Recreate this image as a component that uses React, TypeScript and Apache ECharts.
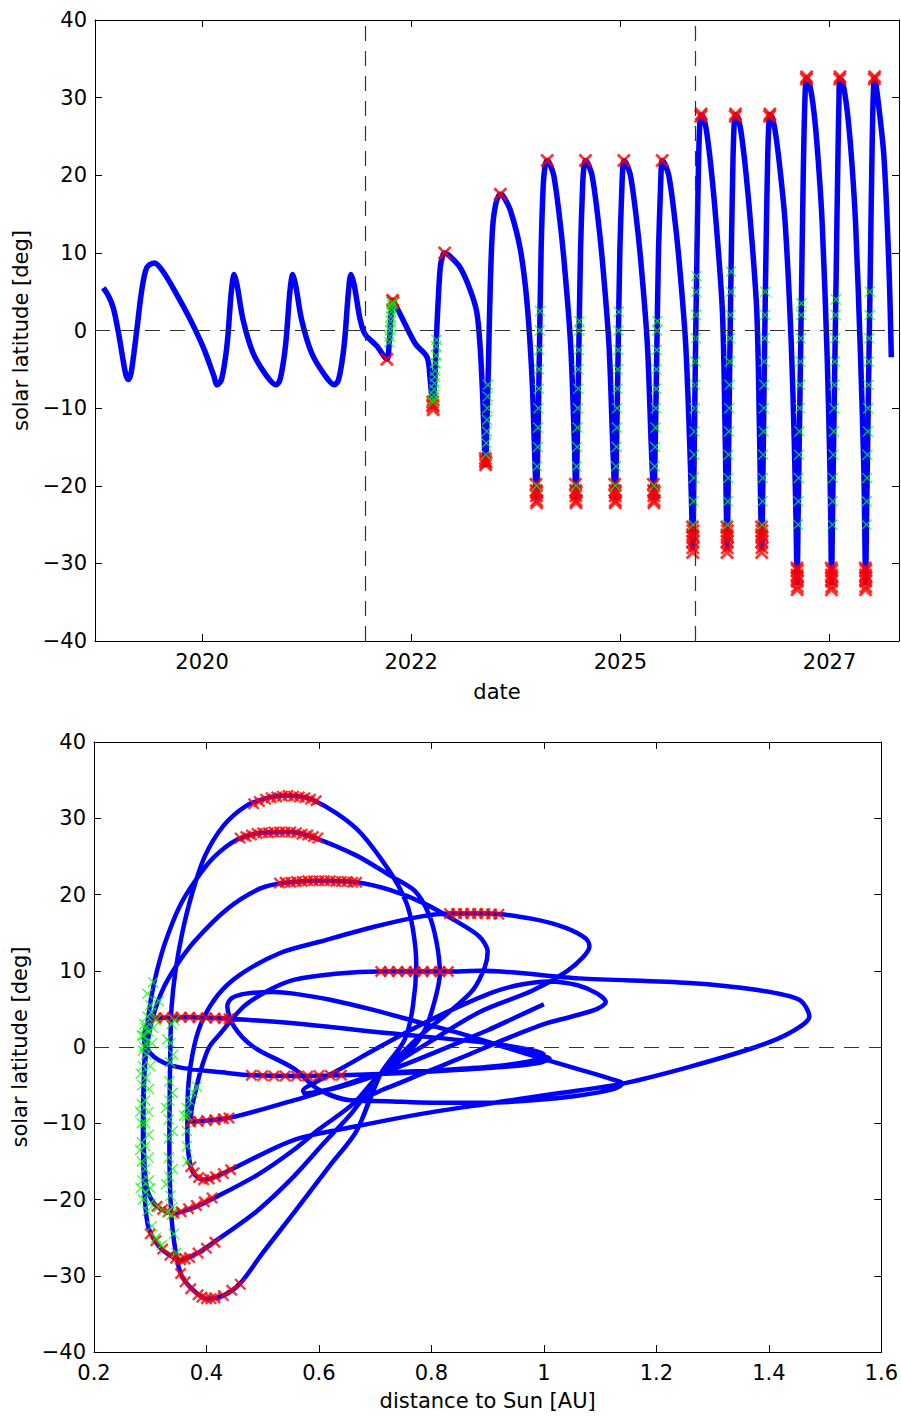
import React, { useEffect, useRef } from "react";
import * as echarts from "echarts";

// ---------------- TOP PANEL: solar latitude vs date ----------------
const DATE_TICKS = [2020, 2022.5, 2025, 2027.5];
const LAT_TICKS_INTERVAL = 10;
const VENUS_FLYBY_DATES = [2021.948, 2025.891];

const TOP_TRACK: number[][] = [
  [2018.82, 5.5], [2018.88, 4.5], [2018.94, 2.9], [2019.0, -0.2], [2019.05, -3.4], [2019.09, -5.7], [2019.12, -6.3],
  [2019.15, -5.6], [2019.185, -3.0], [2019.22, 0.0], [2019.28, 5.2], [2019.34, 8.1], [2019.43, 8.7], [2019.54, 7.5],
  [2019.7, 4.6], [2019.86, 1.4], [2020.02, -2.3], [2020.14, -5.8], [2020.18, -7.0], [2020.23, -6.4], [2020.28, -3.5],
  [2020.31, -0.6], [2020.35, 5.0], [2020.385, 7.2], [2020.42, 5.8], [2020.49, 1.4], [2020.61, -2.9], [2020.77, -5.8],
  [2020.885, -7.0], [2020.93, -6.4], [2020.98, -3.5], [2021.01, -0.6], [2021.05, 5.0], [2021.085, 7.2], [2021.12, 5.8],
  [2021.19, 1.4], [2021.31, -2.9], [2021.47, -5.8], [2021.58, -7.0], [2021.63, -6.4], [2021.68, -3.5], [2021.71, -0.6],
  [2021.75, 5.0], [2021.78, 7.2], [2021.82, 5.8], [2021.89, 1.4], [2021.95, -0.5], [2022.09, -2.0], [2022.21, -3.7],
  [2022.235, -2.0], [2022.25, 0.5], [2022.265, 2.8], [2022.28, 3.9], [2022.33, 2.9], [2022.41, 1.2], [2022.55, -1.7],
  [2022.69, -3.45], [2022.727, -6.3], [2022.76, -9.8], [2022.772, -8.2], [2022.787, -5.2], [2022.8, -1.5], [2022.815, 2.3],
  [2022.847, 8.1], [2022.875, 9.6], [2022.9, 10.0], [2022.97, 9.5], [2023.086, 8.1], [2023.206, 5.2], [2023.285, 2.3],
  [2023.325, -2.3], [2023.353, -8.1], [2023.377, -15.0], [2023.389, -17.3], [2023.405, -12.0], [2023.425, -3.5],
  [2023.445, 5.8], [2023.473, 13.2], [2023.513, 16.4], [2023.565, 17.55],
  [2023.6, 17.3], [2023.685, 15.5], [2023.805, 10.4], [2023.885, 3.5], [2023.945, -6.3], [2023.973, -15], [2023.997, -21.5],
  [2024.013, -15], [2024.033, -2.3], [2024.053, 10.4], [2024.077, 18.4], [2024.1, 21.2], [2024.125, 21.9],
  [2024.155, 21.5], [2024.205, 19.9], [2024.265, 15.3], [2024.325, 9.2], [2024.405, -1.7], [2024.452, -15], [2024.468, -21.5],
  [2024.484, -15], [2024.504, -2.3], [2024.524, 10.4], [2024.548, 18.4], [2024.565, 21.2], [2024.583, 21.9],
  [2024.613, 21.5], [2024.663, 19.9], [2024.723, 15.3], [2024.783, 9.2], [2024.863, -1.7], [2024.91, -15], [2024.938, -21.5],
  [2024.954, -15], [2024.974, -2.3], [2024.994, 10.4], [2025.018, 18.4], [2025.03, 21.2], [2025.042, 21.9],
  [2025.072, 21.5], [2025.122, 19.9], [2025.182, 15.3], [2025.242, 9.2], [2025.322, -1.7], [2025.37, -15], [2025.4, -21.5],
  [2025.416, -15], [2025.436, -2.3], [2025.456, 10.4], [2025.48, 18.4], [2025.49, 21.2], [2025.5, 21.9],
  [2025.53, 21.5], [2025.58, 19.9], [2025.64, 15.3], [2025.7, 9.2], [2025.78, -1.7], [2025.83, -15], [2025.85, -22], [2025.865, -28],
  [2025.877, -20], [2025.895, -5], [2025.915, 10], [2025.935, 22], [2025.95, 26.8], [2025.965, 27.8],
  [2025.995, 27.4], [2026.035, 25.3], [2026.09, 20.3], [2026.145, 13.8], [2026.22, 2.3], [2026.255, -15], [2026.265, -22], [2026.276, -28],
  [2026.288, -20], [2026.306, -5], [2026.326, 10], [2026.346, 22], [2026.361, 26.8], [2026.376, 27.8],
  [2026.406, 27.4], [2026.446, 25.3], [2026.501, 20.3], [2026.556, 13.8], [2026.631, 2.3], [2026.666, -15], [2026.676, -22], [2026.69, -28],
  [2026.702, -20], [2026.72, -5], [2026.74, 10], [2026.76, 22], [2026.775, 26.8], [2026.786, 27.8],
  [2026.816, 27.4], [2026.856, 25.3], [2026.913, 20.3], [2026.97, 13.8], [2027.04, -1], [2027.08, -15], [2027.1, -25], [2027.113, -32.5],
  [2027.123, -25], [2027.145, -9.2], [2027.165, 5], [2027.185, 19.6], [2027.205, 29.5], [2027.225, 32.5],
  [2027.26, 31.8], [2027.313, 28.2], [2027.362, 22.3], [2027.412, 13.8], [2027.472, -3.5], [2027.505, -18], [2027.515, -25], [2027.524, -32.5],
  [2027.534, -25], [2027.556, -9.2], [2027.576, 5], [2027.596, 19.6], [2027.612, 29.5], [2027.624, 32.5],
  [2027.66, 31.8], [2027.712, 28.2], [2027.762, 22.3], [2027.811, 13.8], [2027.871, -3.5], [2027.91, -18], [2027.92, -25], [2027.931, -32.5],
  [2027.941, -25], [2027.963, -9.2], [2027.983, 5], [2028.003, 19.6], [2028.02, 29.5], [2028.038, 32.5],
  [2028.07, 30.5], [2028.15, 22.4], [2028.21, 8.1], [2028.238, -3.45],
];

const TOP_RED: number[][] = [
  [2022.21, -3.7], [2022.278, 3.9], [2022.283, 3.6],
  [2022.756, -9.2], [2022.76, -9.8], [2022.763, -10.2], [2022.758, -9.6],
  [2022.9, 10.0],
  [2023.386, -16.5], [2023.389, -17.3], [2023.392, -17.0], [2023.388, -16.8],
  [2023.565, 17.55],
  [2023.991, -19.8], [2023.994, -20.6], [2023.997, -21.3], [2024.0, -21.9], [2024.002, -20.8], [2023.998, -22.2],
  [2024.462, -19.8], [2024.465, -20.6], [2024.468, -21.3], [2024.471, -21.9], [2024.473, -20.8], [2024.469, -22.2],
  [2024.932, -19.8], [2024.935, -20.6], [2024.938, -21.3], [2024.941, -21.9], [2024.943, -20.8], [2024.939, -22.2],
  [2025.394, -19.8], [2025.397, -20.6], [2025.4, -21.3], [2025.403, -21.9], [2025.405, -20.8], [2025.401, -22.2],
  [2024.125, 21.9], [2024.583, 21.9], [2025.042, 21.9], [2025.5, 21.9],
  [2025.861, -25.3], [2025.863, -26.3], [2025.865, -27.2], [2025.867, -28.0], [2025.869, -26.6], [2025.864, -28.6], [2025.868, -25.8],
  [2026.272, -25.3], [2026.274, -26.3], [2026.276, -27.2], [2026.278, -28.0], [2026.28, -26.6], [2026.275, -28.6], [2026.279, -25.8],
  [2026.686, -25.3], [2026.688, -26.3], [2026.69, -27.2], [2026.692, -28.0], [2026.694, -26.6], [2026.689, -28.6], [2026.693, -25.8],
  [2025.962, 27.6], [2025.966, 27.9], [2026.373, 27.6], [2026.377, 27.9], [2026.783, 27.6], [2026.787, 27.9],
  [2027.109, -30.6], [2027.111, -31.5], [2027.113, -32.3], [2027.115, -33.0], [2027.117, -31.8], [2027.112, -33.4], [2027.116, -30.9],
  [2027.52, -30.6], [2027.522, -31.5], [2027.524, -32.3], [2027.526, -33.0], [2027.528, -31.8], [2027.523, -33.4], [2027.527, -30.9],
  [2027.927, -30.6], [2027.929, -31.5], [2027.931, -32.3], [2027.933, -33.0], [2027.935, -31.8], [2027.93, -33.4], [2027.934, -30.9],
  [2027.222, 32.4], [2027.226, 32.7], [2027.621, 32.4], [2027.625, 32.7], [2028.035, 32.4], [2028.039, 32.7],
];

const TOP_GREEN: number[][] = [
  [2022.238, -1.5], [2022.242, -0.8], [2022.246, 0], [2022.25, 0.5], [2022.254, 1.2], [2022.258, 1.8], [2022.262, 2.4],
  [2022.266, 2.9], [2022.27, 3.3], [2022.275, 3.6],
  [2022.762, -9.2], [2022.766, -8.8], [2022.77, -8.3], [2022.775, -7.6], [2022.779, -6.8], [2022.783, -6.0],
  [2022.787, -5.2], [2022.791, -4.2], [2022.795, -3.2], [2022.799, -2.0], [2022.802, -1.2],
  [2023.393, -16], [2023.397, -14.5], [2023.402, -13], [2023.406, -11.5], [2023.41, -10], [2023.413, -8.5], [2023.417, -7],
  [2024.0, -20], [2024.006, -17.5], [2024.013, -15], [2024.017, -12.5], [2024.021, -10], [2024.025, -7.5], [2024.028, -5],
  [2024.032, -2.5], [2024.036, 0], [2024.04, 2.5],
  [2024.471, -20], [2024.477, -17.5], [2024.484, -15], [2024.488, -12.5], [2024.492, -10], [2024.496, -7.5], [2024.499, -5],
  [2024.503, -2.5], [2024.507, 0], [2024.51, 1.2],
  [2024.941, -20], [2024.947, -17.5], [2024.954, -15], [2024.958, -12.5], [2024.962, -10], [2024.966, -7.5], [2024.969, -5],
  [2024.973, -2.5], [2024.977, 0], [2024.981, 2.4],
  [2025.403, -20], [2025.409, -17.5], [2025.416, -15], [2025.42, -12.5], [2025.424, -10], [2025.428, -7.5], [2025.431, -5],
  [2025.435, -2.5], [2025.439, 0], [2025.442, 1.2],
  [2025.87, -25], [2025.874, -22], [2025.878, -19], [2025.882, -16], [2025.886, -13], [2025.89, -10], [2025.893, -7],
  [2025.896, -4], [2025.9, -1], [2025.904, 2], [2025.908, 5], [2025.91, 7],
  [2026.281, -25], [2026.285, -22], [2026.289, -19], [2026.293, -16], [2026.297, -13], [2026.301, -10], [2026.304, -7],
  [2026.307, -4], [2026.311, -1], [2026.315, 2], [2026.319, 5], [2026.322, 7.6],
  [2026.695, -25], [2026.699, -22], [2026.703, -19], [2026.707, -16], [2026.711, -13], [2026.715, -10], [2026.718, -7],
  [2026.721, -4], [2026.725, -1], [2026.729, 2], [2026.733, 5],
  [2027.123, -25], [2027.127, -22], [2027.131, -19], [2027.135, -16], [2027.14, -13], [2027.144, -10], [2027.148, -7],
  [2027.152, -4], [2027.157, -1], [2027.161, 2], [2027.163, 3.5],
  [2027.534, -25], [2027.538, -22], [2027.542, -19], [2027.546, -16], [2027.551, -13], [2027.555, -10], [2027.559, -7],
  [2027.563, -4], [2027.568, -1], [2027.572, 2], [2027.575, 4],
  [2027.941, -25], [2027.945, -22], [2027.949, -19], [2027.953, -16], [2027.958, -13], [2027.962, -10], [2027.966, -7],
  [2027.97, -4], [2027.975, -1], [2027.979, 2], [2027.982, 5],
];

// ---------------- BOTTOM PANEL: solar latitude vs distance ----------------
const LAUNCH_LEG: number[][] = [
  [1.0, 5.6], [0.95, 3.9], [0.9, 2.2], [0.8, -0.9], [0.71, -3.5], [0.64, -5.2], [0.595, -5.9], [0.575, -6.1],
  [0.572, -5.7], [0.59, -4.8], [0.64, -2.8], [0.7, -0.3], [0.77, 2.5], [0.84, 5.0], [0.91, 7.2], [0.96, 8.2],
  [1.01, 8.6], [1.06, 8.1], [1.095, 7.0], [1.11, 5.9], [1.095, 5.0], [1.05, 4.0], [1.0, 3.0], [0.927, 0.9],
  [0.85, -1.5], [0.78, -3.6], [0.72, -5.4], [0.66, -7.0],
];
const CRUISE_LOOP: number[][] = [
  [0.66, -7.0], [0.6, -5.6], [0.555, -2.8], [0.484, 0.0], [0.449, 2.7], [0.437, 5.4], [0.445, 6.4], [0.47, 7.0],
  [0.52, 7.2], [0.555, 7.0], [0.62, 6.2], [0.7, 4.8], [0.785, 3.1], [0.86, 1.6], [0.93, 0.0], [1.0, -1.6],
  [1.07, -3.1], [1.12, -4.2], [1.14, -4.8], [1.12, -5.6], [1.06, -6.4], [0.98, -7.0], [0.9, -7.3], [0.8, -7.3],
  [0.72, -7.1], [0.66, -7.0],
];
const CRUISE_EXIT: number[][] = [
  [0.6, -5.6], [0.555, -2.8], [0.484, 0.0], [0.449, 2.7], [0.437, 5.4], [0.445, 6.4], [0.47, 7.0], [0.52, 7.2],
  [0.555, 7.0], [0.62, 6.2], [0.7, 4.8], [0.785, 3.1], [0.86, 1.6], [0.93, 0.0], [0.98, -1.0], [1.01, -1.5],
  [0.99, -2.1], [0.93, -2.6], [0.85, -3.0], [0.75, -3.4],
];
const ORBIT_2022: number[][] = [
  [0.64, -3.7], [0.56, -3.8], [0.48, -3.7], [0.437, -3.4], [0.348, -2.6], [0.307, -1.3], [0.289, 0.9], [0.295, 3.0],
  [0.31, 3.8], [0.37, 3.9], [0.44, 3.7], [0.555, 3.1], [0.726, 1.8], [0.903, 0.5], [0.97, -0.3], [1.0, -1.0],
  [0.98, -1.8], [0.903, -2.6], [0.8, -3.1], [0.71, -3.5], [0.63, -5.3], [0.555, -7.0], [0.44, -9.3], [0.372, -9.8],
  [0.374, -8.0], [0.38, -6.0], [0.39, -3.0], [0.405, 0.0], [0.425, 1.8], [0.466, 5.3], [0.51, 7.4], [0.555, 8.8],
  [0.63, 9.6], [0.71, 9.9], [0.83, 9.9], [0.886, 10.0], [1.063, 9.0], [1.259, 8.4], [1.377, 7.5], [1.454, 6.2],
  [1.472, 4.0], [1.436, 1.8], [1.377, 0.0], [1.259, -2.6], [1.14, -4.8], [1.022, -6.1], [0.903, -7.4], [0.78, -8.8],
  [0.667, -10.4], [0.555, -12.2], [0.443, -16.1], [0.41, -17.2], [0.395, -17.4], [0.38, -16.8], [0.372, -15.7],
];
const ORBIT_2023: number[][] = [
  [0.366, -12.0], [0.367, -6.0], [0.375, -1.0], [0.39, 3.0], [0.42, 6.8], [0.46, 9.5], [0.53, 12.3], [0.601, 13.8],
  [0.7, 15.8], [0.78, 17.1], [0.832, 17.5], [0.903, 17.5], [0.98, 16.8], [1.04, 15.6], [1.075, 14.2], [1.081, 13.2],
  [1.07, 11.8], [1.04, 9.9], [0.98, 7.4], [0.886, 4.6], [0.8, 0.8], [0.71, -3.5],
];
const LOOP_22: number[][] = [
  [0.71, -3.5], [0.66, -7.5], [0.6, -10.8], [0.555, -13.5], [0.49, -16.8], [0.419, -19.6], [0.38, -21.0], [0.342, -21.8],
  [0.312, -20.9], [0.295, -18.8], [0.289, -14], [0.288, -8], [0.29, -3], [0.295, 0.5], [0.305, 4.0], [0.322, 7.5],
  [0.345, 10.5], [0.378, 13.8], [0.437, 18.1], [0.496, 20.8], [0.537, 21.5], [0.6, 21.8], [0.667, 21.6], [0.726, 20.6],
  [0.785, 18.9], [0.844, 16.5], [0.885, 14.5], [0.9, 12.5], [0.895, 10.5], [0.874, 7.5], [0.83, 4.5], [0.785, 1.8],
  [0.745, -1.0], [0.71, -3.5],
];
const LOOP_28: number[][] = [
  [0.71, -3.5], [0.66, -8.5], [0.61, -12.5], [0.555, -17], [0.49, -21.5], [0.419, -25.3], [0.385, -27.0], [0.354, -27.9],
  [0.325, -26.8], [0.307, -25.3], [0.295, -23.1], [0.289, -18], [0.287, -10], [0.289, -3], [0.292, 1], [0.296, 3.6],
  [0.302, 6.6], [0.312, 10.0], [0.327, 13.8], [0.352, 18.4], [0.38, 21.8], [0.412, 24.8], [0.455, 27.2], [0.5, 28.1],
  [0.55, 28.2], [0.59, 27.5], [0.667, 25.1], [0.726, 22.5], [0.77, 20.5], [0.795, 17.5], [0.809, 13.8], [0.815, 9.7],
  [0.803, 5.3], [0.785, 1.8], [0.745, -1.8], [0.71, -3.5],
];
const LOOP_33: number[][] = [
  [0.71, -3.5], [0.667, -11], [0.62, -15.5], [0.555, -21.8], [0.5, -27], [0.46, -31], [0.43, -32.6], [0.4, -33],
  [0.375, -31.8], [0.354, -29.7], [0.342, -25.3], [0.336, -20], [0.334, -12], [0.335, -4], [0.336, 0.9], [0.338, 5.3],
  [0.345, 10.0], [0.357, 15.0], [0.374, 20.0], [0.397, 25.0], [0.43, 29.0], [0.47, 31.6], [0.51, 32.7], [0.54, 33],
  [0.59, 32.4], [0.667, 28.6], [0.726, 23], [0.755, 19], [0.767, 15.5], [0.773, 11], [0.767, 5.3], [0.752, 0.9], [0.71, -3.5],
];

const BOTTOM_TRACK: number[][] = [
  ...LAUNCH_LEG,
  ...CRUISE_LOOP.slice(1), ...CRUISE_LOOP.slice(1), ...CRUISE_EXIT,
  ...ORBIT_2022, ...ORBIT_2023,
  ...LOOP_22.slice(1), ...LOOP_22.slice(1), ...LOOP_22.slice(1), ...LOOP_22.slice(1),
  ...LOOP_28.slice(1), ...LOOP_28.slice(1), ...LOOP_28.slice(1),
  ...LOOP_33.slice(1), ...LOOP_33.slice(1), ...LOOP_33.slice(1),
];

const BOTTOM_RED: number[][] = [
  [0.48, -3.7], [0.5, -3.75], [0.52, -3.8], [0.54, -3.8], [0.56, -3.8], [0.58, -3.8], [0.6, -3.75], [0.62, -3.7], [0.64, -3.7],
  [0.31, 3.8], [0.325, 3.85], [0.34, 3.9], [0.355, 3.9], [0.37, 3.9], [0.385, 3.85], [0.4, 3.8], [0.415, 3.8], [0.43, 3.75], [0.44, 3.7],
  [0.372, -9.8], [0.385, -9.75], [0.4, -9.65], [0.415, -9.55], [0.43, -9.4], [0.44, -9.3],
  [0.71, 9.9], [0.725, 9.9], [0.74, 9.9], [0.755, 9.9], [0.77, 9.9], [0.785, 9.9], [0.8, 9.9], [0.815, 9.9], [0.83, 9.9],
  [0.372, -15.7], [0.378, -16.5], [0.386, -17.1], [0.395, -17.4], [0.405, -17.3], [0.416, -17.0], [0.43, -16.6], [0.443, -16.1],
  [0.832, 17.5], [0.845, 17.5], [0.857, 17.5], [0.87, 17.5], [0.882, 17.5], [0.895, 17.5], [0.907, 17.45], [0.92, 17.4],
  [0.312, -20.9], [0.322, -21.3], [0.332, -21.6], [0.342, -21.8], [0.355, -21.6], [0.368, -21.2], [0.382, -20.8], [0.396, -20.3], [0.41, -19.8],
  [0.53, 21.5], [0.54, 21.6], [0.55, 21.6], [0.56, 21.7], [0.57, 21.7], [0.58, 21.8], [0.59, 21.8], [0.6, 21.8], [0.61, 21.8], [0.62, 21.8],
  [0.63, 21.7], [0.64, 21.7], [0.65, 21.7], [0.66, 21.6], [0.667, 21.6],
  [0.3, -24.5], [0.31, -25.4], [0.322, -26.5], [0.335, -27.3], [0.345, -27.7], [0.354, -27.9], [0.362, -27.8], [0.37, -27.6],
  [0.385, -27.0], [0.4, -26.4], [0.415, -25.6],
  [0.46, 27.4], [0.47, 27.6], [0.48, 27.8], [0.49, 28.0], [0.5, 28.1], [0.51, 28.1], [0.52, 28.2], [0.53, 28.2], [0.54, 28.2],
  [0.55, 28.2], [0.56, 28.1], [0.57, 27.9], [0.58, 27.8], [0.59, 27.6], [0.598, 27.4],
  [0.354, -29.7], [0.362, -30.8], [0.372, -31.7], [0.385, -32.5], [0.392, -32.8], [0.4, -33.0], [0.408, -33.0], [0.415, -32.9],
  [0.43, -32.6], [0.445, -31.9], [0.46, -31.1],
  [0.484, 31.9], [0.494, 32.2], [0.505, 32.5], [0.515, 32.7], [0.525, 32.8], [0.535, 32.9], [0.545, 33.0], [0.555, 32.9],
  [0.565, 32.8], [0.575, 32.7], [0.585, 32.5], [0.595, 32.3],
];

const BOTTOM_GREEN: number[][] = [
  [0.287, -20], [0.286, -17.5], [0.285, -15], [0.285, -12.5], [0.285, -10], [0.285, -7.5], [0.286, -5], [0.287, -2.5], [0.289, 0], [0.292, 2.5],
  [0.295, -21.5], [0.292, -19], [0.291, -16], [0.291, -13], [0.291, -10], [0.291, -7], [0.292, -4], [0.293, -1], [0.297, 2], [0.302, 4.5],
  [0.303, -23.5], [0.3, -20.5], [0.298, -17.5], [0.297, -14.5], [0.297, -11.5], [0.297, -8.5], [0.298, -5.5], [0.3, -2.5], [0.303, 0.5], [0.31, 3.5], [0.315, 6],
  [0.283, -18.5], [0.282, -13.5], [0.282, -8.5], [0.283, -3.5], [0.285, 1.5], [0.295, 7], [0.305, 8.5],
  [0.31, -25], [0.32, -26], [0.3, -18.5], [0.315, -21], [0.33, -21.7],
  [0.346, -27], [0.342, -24.5], [0.338, -22], [0.336, -19.5], [0.334, -17], [0.333, -14.5], [0.333, -12], [0.333, -9.5], [0.334, -7], [0.334, -4.5], [0.335, -2], [0.336, 0.5], [0.338, 3],
  [0.34, -21], [0.34, -16], [0.34, -11], [0.34, -6], [0.341, -1], [0.343, 3.5], [0.328, -18], [0.328, -8], [0.33, 1],
  [0.287, -0.5], [0.288, 1.5], [0.29, 3], [0.295, 4], [0.3, 5.5], [0.292, 0.5], [0.305, 2.5],
  [0.36, -9], [0.365, -8], [0.37, -7], [0.376, -6], [0.383, -5.2],
  [0.366, -15], [0.365, -13], [0.365, -11], [0.366, -9],
];

// ---------------- rendering ----------------
const FONT = "DejaVu Sans";
const BLUE = "#0000ff";
const RED_X = "path://M1.4,0L5,3.6L8.6,0L10,1.4L6.4,5L10,8.6L8.6,10L5,6.4L1.4,10L0,8.6L3.6,5L0,1.4Z";
const GREEN_X = "path://M0.8,0L5,4.2L9.2,0L10,0.8L5.8,5L10,9.2L9.2,10L5,5.8L0.8,10L0,9.2L4.2,5L0,0.8Z";

const minusFmt = (v: number) => (v < 0 ? "\u2212" + Math.abs(v) : String(v));

const axisBase = {
  axisLine: { show: true, onZero: false, lineStyle: { color: "#000", width: 1 } },
  axisTick: { show: true, inside: true, length: 7, lineStyle: { color: "#000", width: 1 } },
  splitLine: { show: false },
};
const labelBase = { color: "#000", fontFamily: FONT, fontSize: 21 };
const nameStyle = { color: "#000", fontFamily: FONT, fontSize: 21 };

function buildOption() {
  const dash = { color: "#333", width: 1.2, type: [15, 10] as any };
  return {
    animation: false,
    backgroundColor: "#fff",
    grid: [
      { left: 95, top: 20, width: 804, height: 621 },
      { left: 94, top: 742, width: 789, height: 610 },
    ],
    xAxis: [
      {
        ...axisBase, type: "value", gridIndex: 0, position: "bottom", min: 2018.721, max: 2028.33,
        axisTick: { ...axisBase.axisTick, customValues: DATE_TICKS },
        axisLabel: { ...labelBase, margin: 10, customValues: DATE_TICKS, formatter: (v: number) => String(Math.floor(v)) },
        name: "date", nameLocation: "middle", nameGap: 40, nameTextStyle: nameStyle,
      },
      {
        ...axisBase, type: "value", gridIndex: 0, position: "top", min: 2018.721, max: 2028.33,
        axisTick: { ...axisBase.axisTick, customValues: DATE_TICKS },
        axisLabel: { show: false },
      },
      {
        ...axisBase, type: "value", gridIndex: 1, position: "bottom", min: 0.2, max: 1.6, interval: 0.2,
        axisLabel: { ...labelBase, margin: 10, formatter: (v: number) => String(Math.round(v * 10) / 10) },
        name: "distance to Sun [AU]", nameLocation: "middle", nameGap: 38, nameTextStyle: nameStyle,
      },
      {
        ...axisBase, type: "value", gridIndex: 1, position: "top", min: 0.2, max: 1.6, interval: 0.2,
        axisLabel: { show: false },
      },
    ],
    yAxis: [
      {
        ...axisBase, type: "value", gridIndex: 0, position: "left", min: -40, max: 40, interval: LAT_TICKS_INTERVAL,
        axisLabel: { ...labelBase, margin: 8, formatter: minusFmt },
        name: "solar latitude [deg]", nameLocation: "middle", nameGap: 56, nameRotate: 90, nameTextStyle: nameStyle,
      },
      {
        ...axisBase, type: "value", gridIndex: 0, position: "right", min: -40, max: 40, interval: LAT_TICKS_INTERVAL,
        axisLabel: { show: false },
      },
      {
        ...axisBase, type: "value", gridIndex: 1, position: "left", min: -40, max: 40, interval: LAT_TICKS_INTERVAL,
        axisLabel: { ...labelBase, margin: 8, formatter: minusFmt },
        name: "solar latitude [deg]", nameLocation: "middle", nameGap: 56, nameRotate: 90, nameTextStyle: nameStyle,
      },
      {
        ...axisBase, type: "value", gridIndex: 1, position: "right", min: -40, max: 40, interval: LAT_TICKS_INTERVAL,
        axisLabel: { show: false },
      },
    ],
    series: [
      {
        type: "scatter", xAxisIndex: 0, yAxisIndex: 0, data: [[2020, 0]], symbolSize: 0, z: 1, silent: true,
        markLine: {
          silent: true, symbol: ["none", "none"], label: { show: false }, lineStyle: dash, animation: false,
          data: [{ yAxis: 0 }, ...VENUS_FLYBY_DATES.map((d) => ({ xAxis: d }))],
        },
      },
      {
        type: "line", xAxisIndex: 0, yAxisIndex: 0, data: TOP_TRACK, showSymbol: false, smooth: 0.3, z: 2,
        lineStyle: { color: BLUE, width: 5.5 }, itemStyle: { color: BLUE },
      },
      {
        type: "scatter", xAxisIndex: 0, yAxisIndex: 0, data: TOP_RED, symbol: RED_X, symbolSize: 14, z: 3,
        itemStyle: { color: "#ff0000" },
      },
      {
        type: "scatter", xAxisIndex: 0, yAxisIndex: 0, data: TOP_GREEN, symbol: GREEN_X, symbolSize: 11, z: 4,
        itemStyle: { color: "#00ff00" },
      },
      {
        type: "scatter", xAxisIndex: 2, yAxisIndex: 2, data: [[1, 0]], symbolSize: 0, z: 1, silent: true,
        markLine: {
          silent: true, symbol: ["none", "none"], label: { show: false }, lineStyle: dash, animation: false,
          data: [{ yAxis: 0 }],
        },
      },
      {
        type: "line", xAxisIndex: 2, yAxisIndex: 2, data: BOTTOM_TRACK, showSymbol: false, smooth: 0.3, z: 2,
        lineStyle: { color: BLUE, width: 4.5 }, itemStyle: { color: BLUE },
      },
      {
        type: "scatter", xAxisIndex: 2, yAxisIndex: 2, data: BOTTOM_RED, symbol: RED_X, symbolSize: 12, z: 3,
        itemStyle: { color: "#ff0000" },
      },
      {
        type: "scatter", xAxisIndex: 2, yAxisIndex: 2, data: BOTTOM_GREEN, symbol: GREEN_X, symbolSize: 11, z: 4,
        itemStyle: { color: "#00ff00" },
      },
    ],
  };
}

export default function App() {
  const ref = useRef<HTMLDivElement>(null);
  useEffect(() => {
    document.body.style.margin = "0";
    const chart = echarts.init(ref.current as HTMLDivElement, undefined, { renderer: "svg" });
    chart.setOption(buildOption() as any);
    return () => chart.dispose();
  }, []);
  return <div ref={ref} style={{ width: 901, height: 1416, background: "#fff" }} />;
}
